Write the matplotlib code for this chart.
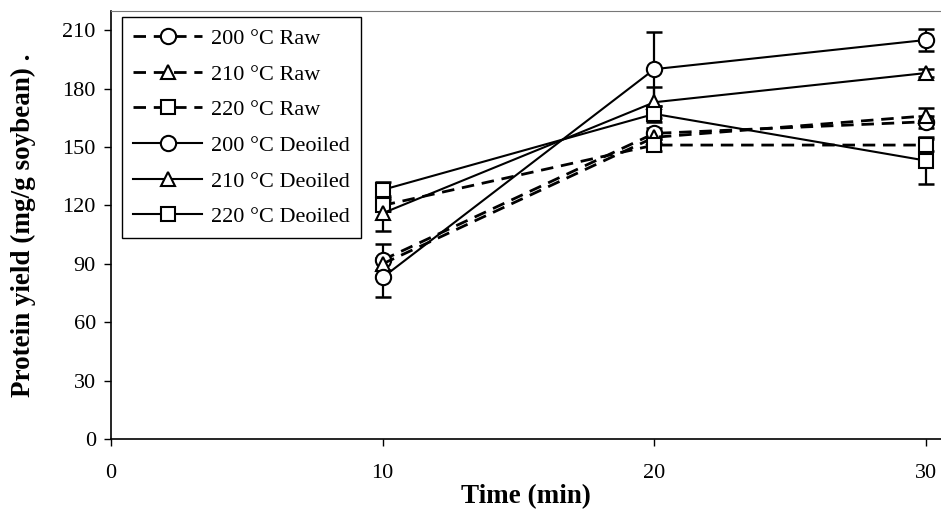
import numpy as np
import matplotlib
matplotlib.use("Agg")
import matplotlib.pyplot as plt

plt.rcParams['font.family'] = ['Liberation Serif', 'DejaVu Serif']

# hydrolysis time (min)
time = [10, 20, 30]

# protein yield (mg/g soybean), raw soybean
raw_200 = [92, 157, 163]
raw_210 = [90, 155, 166]
raw_220 = [120, 151, 151]
raw_200_err = [8, 3, 3]
raw_210_err = [3, 3, 4]
raw_220_err = [3, 3, 3]

# protein yield (mg/g soybean), deoiled soybean
deoiled_200 = [83, 190, 205]
deoiled_210 = [116, 173, 188]
deoiled_220 = [128, 167, 143]
deoiled_200_err = [10, 19, 5.5]
deoiled_210_err = [9, 8, 2]
deoiled_220_err = [4, 4, 12]

labels = ["200 °C Raw", "210 °C Raw", "220 °C Raw",
          "200 °C Deoiled", "210 °C Deoiled", "220 °C Deoiled"]
x_ticks = [0, 10, 20, 30]
y_ticks = [0, 30, 60, 90, 120, 150, 180, 210]

fig = plt.figure(figsize=(9.41, 5.12), dpi=100)
ax = fig.add_axes([0.118, 0.1426, 0.882, 0.8364])

series = [
    (raw_200, raw_200_err, 'o', 'dashed'),
    (raw_210, raw_210_err, '^', 'dashed'),
    (raw_220, raw_220_err, 's', 'dashed'),
    (deoiled_200, deoiled_200_err, 'o', 'solid'),
    (deoiled_210, deoiled_210_err, '^', 'solid'),
    (deoiled_220, deoiled_220_err, 's', 'solid'),
]

handles = []
for (vals, err, mk, style), lab in zip(series, labels):
    ms = 11 if mk == 'o' else 9.5
    if style == 'dashed':
        lw = 2.0
        ls = (0, (4.5, 2.8))
    else:
        lw = 1.5
        ls = '-'
    ax.errorbar(time, vals, yerr=err, fmt='none', ecolor='black',
                elinewidth=1.6, capsize=5.5, capthick=1.8, zorder=3)
    h, = ax.plot(time, vals, color='black', linestyle=ls, linewidth=lw,
                 marker=mk, markersize=ms, markerfacecolor='white',
                 markeredgecolor='black', markeredgewidth=1.5,
                 label=lab, zorder=4)
    handles.append(h)

ax.set_xlim(0, 30.55)
ax.set_ylim(0, 220)
ax.set_xticks(x_ticks)
ax.set_yticks(y_ticks)
ax.tick_params(axis='both', direction='out', length=5, width=1,
               labelsize=16, colors='black')
ax.tick_params(axis='x', pad=13)
ax.tick_params(axis='y', pad=6)

ax.spines['right'].set_visible(False)
ax.spines['top'].set_color('#777777')
ax.spines['top'].set_linewidth(0.8)
ax.spines['left'].set_linewidth(1.2)
ax.spines['bottom'].set_linewidth(1.2)

ax.set_xlabel("Time (min)", fontsize=19.5, fontweight='bold', labelpad=1)
ax.set_ylabel("Protein yield (mg/g soybean) .", fontsize=19.5,
              fontweight='bold', labelpad=19)

leg = ax.legend(handles=handles, loc='upper left',
                bbox_to_anchor=(0.0133, 0.985), borderaxespad=0,
                fontsize=16, handlelength=3.1, handletextpad=0.4,
                labelspacing=0.68, borderpad=0.5, fancybox=False,
                framealpha=1, edgecolor='black')
leg.get_frame().set_linewidth(1.0)

fig.savefig("out.png", dpi=100)
